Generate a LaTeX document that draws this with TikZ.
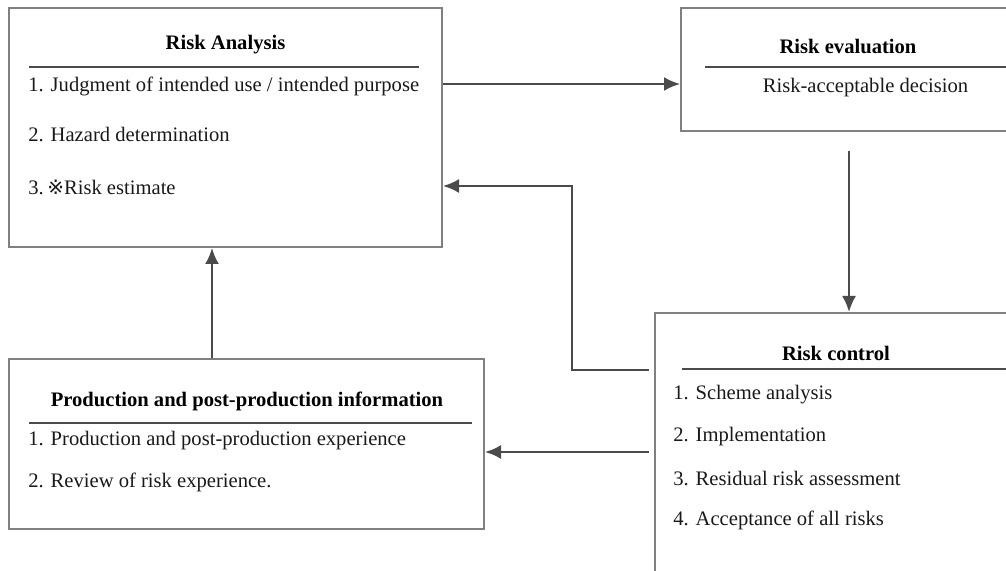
\documentclass[tikz,border=0pt]{standalone}
\usepackage{fontspec}
\setmainfont{Liberation Serif}
\usetikzlibrary{arrows.meta}

\definecolor{boxgray}{RGB}{128,128,128}
\definecolor{arrgray}{RGB}{75,75,75}

\tikzset{
    box/.style={draw=boxgray, line width=1pt, minimum width=#1, inner sep=0pt},
    head/.style={font=\bfseries\fontsize{10.3}{12}\selectfont, inner sep=0pt},
    item/.style={anchor=west, font=\fontsize{10.3}{12}\selectfont, inner sep=0pt, text=black!90},
    rule/.style={draw=arrgray, line width=1.1pt},
    arr/.style={draw=arrgray, line width=1.1pt, -{Latex[length=8pt,width=7pt]}}
}

\begin{document}
\begin{tikzpicture}[x=0.5pt,y=-0.5pt]
        \useasboundingbox (0,0) rectangle (1006,571);
        \clip (0,0) rectangle (1006,571);

        % boxes
        \node[box=216.5pt, minimum height=119.5pt] (ra) at (225.5,127.5) {};
        \node[box=175pt, minimum height=61.5pt] (re) at (856,69.5) {};
        \node[box=190pt, minimum height=145pt] (rc) at (845,458) {};
        \node[box=237.5pt, minimum height=85pt] (pp) at (246.5,444) {};

        % Risk Analysis
        \node[head] (ratitle) at (225.5,45) {Risk Analysis};
        \draw[rule] (29,67) -- (419,67);
        \node[item] (ra1) at (28,86) {1. Judgment of intended use / intended purpose};
        \node[item] (ra2) at (28,135) {2. Hazard determination};
        \node[item] (ra3) at (28,187) {3.\,{\fontspec{DejaVu Sans}\fontsize{10}{12}\selectfont ※}Risk estimate};

        % Risk evaluation
        \node[head] (retitle) at (848,46) {Risk evaluation};
        \draw[rule] (705,67) -- (1010,67);
        \node[item, anchor=center] (re1) at (865.5,88) {Risk-acceptable decision};

        % Risk control
        \node[head] (rctitle) at (836,353) {Risk control};
        \draw[rule] (682,369) -- (1010,369);
        \node[item] (rc1) at (673,395) {1. Scheme analysis};
        \node[item] (rc2) at (673,437) {2. Implementation};
        \node[item] (rc3) at (673,478) {3. Residual risk assessment};
        \node[item] (rc4) at (673,520) {4. Acceptance of all risks};

        % Production and post-production information
        \node[head] (pptitle) at (247,401) {Production and post-production information};
        \draw[rule] (29,423) -- (472,423);
        \node[item] (pp1) at (28,441) {1. Production and post-production experience};
        \node[item] (pp2) at (28,482) {2. Review of risk experience.};

        % connectors
        \draw[arr] (ra.east |- 0,84) -- (re.west |- 0,84);
        \draw[arr] ([yshift=-9.5pt]re.south -| 849,0) -- (rc.north -| 849,0);
        \draw[arr] ([xshift=-2.5pt]rc.west |- 0,370) -| (572,186) -- (ra.east |- 0,186);
        \draw[arr] ([xshift=-2.5pt]rc.west |- 0,452) -- (pp.east |- 0,452);
        \draw[arr] (pp.north -| 212,0) -- (ra.south -| 212,0);

    \end{tikzpicture}
\end{document}
